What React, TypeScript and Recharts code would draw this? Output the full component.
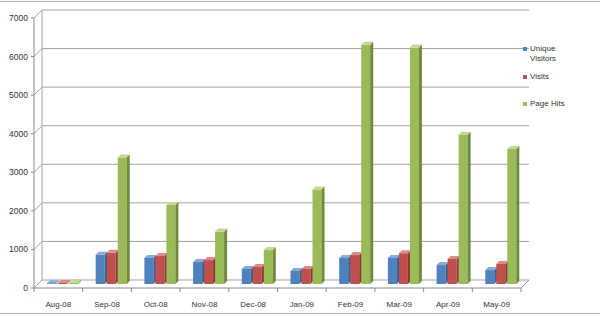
import { BarChart, Bar, XAxis, YAxis, CartesianGrid, Customized } from "recharts";

const months = ["Aug-08", "Sep-08", "Oct-08", "Nov-08", "Dec-08", "Jan-09", "Feb-09", "Mar-09", "Apr-09", "May-09"];
const uniqueVisitors = [20, 760, 675, 570, 390, 340, 675, 675, 490, 360];
const visits = [25, 810, 725, 620, 440, 390, 750, 800, 650, 520];
const pageHits = [35, 3280, 2050, 1360, 880, 2450, 6200, 6130, 3870, 3500];
const yTicks = [0, 1000, 2000, 3000, 4000, 5000, 6000, 7000];

const series = [
  { key: "uniqueVisitors", name: "Unique Visitors", front: "#4f81bd", side: "#37608f", top: "#8aa9d6" },
  { key: "visits", name: "Visits", front: "#c0504d", side: "#8e3634", top: "#db8c8a" },
  { key: "pageHits", name: "Page Hits", front: "#9bbb59", side: "#6f8a3a", top: "#c2d993" },
];

const data = months.map((month, i) => ({
  month,
  uniqueVisitors: uniqueVisitors[i],
  visits: visits[i],
  pageHits: pageHits[i],
}));

const W = 600;
const H = 317;
const LEFT = 38;
const TOP = 14;
const RIGHT = 525;
const BOTTOM = 284;
const D = 4; // half of the 3D depth
const FONT = "'Liberation Sans', Arial, sans-serif";
const LINE = "#a3a3a3";
const AXIS = "#8a8a8a";

function Box(props: any) {
  const { x, y, width, height, colors } = props;
  if (width == null || height == null) return null;
  const d = 3;
  const h = Math.max(height, 0.5);
  return (
    <g>
      <rect x={x} y={y} width={width} height={h} fill={colors.front} />
      <polygon
        points={`${x + width},${y} ${x + width + d},${y - d} ${x + width + d},${y + h - d} ${x + width},${y + h}`}
        fill={colors.side}
      />
      <polygon
        points={`${x},${y} ${x + d},${y - d} ${x + width + d},${y - d} ${x + width},${y}`}
        fill={colors.top}
      />
    </g>
  );
}

function YTick(props: any) {
  const { y, payload } = props;
  return (
    <g>
      <text x={28} y={y + D} textAnchor="end" dominantBaseline="central" fontSize={8.5} fill="#333" fontFamily={FONT}>
        {payload.value}
      </text>
      <line x1={31} y1={y + D} x2={LEFT - D} y2={y + D} stroke={AXIS} />
    </g>
  );
}

function XTick(props: any) {
  const { x, payload, index } = props;
  const band = (RIGHT - LEFT) / months.length;
  const cx = x - D;
  return (
    <g>
      <text x={cx} y={BOTTOM + 20} textAnchor="middle" dominantBaseline="central" fontSize={8} fill="#333" fontFamily={FONT}>
        {payload.value}
      </text>
      <line x1={cx - band / 2} y1={BOTTOM + D} x2={cx - band / 2} y2={BOTTOM + D + 4} stroke={AXIS} />
      {index === months.length - 1 && (
        <line x1={cx + band / 2} y1={BOTTOM + D} x2={cx + band / 2} y2={BOTTOM + D + 4} stroke={AXIS} />
      )}
    </g>
  );
}

function GridLine(props: any) {
  const { x1, x2, y1 } = props;
  return (
    <path
      d={`M${x1 - D},${y1 + D} L${x1 + D},${y1 - D} L${x2 + D},${y1 - D}`}
      fill="none"
      stroke={LINE}
      strokeWidth={1}
    />
  );
}

function Frame() {
  return (
    <g>
      <line x1={0} y1={1.5} x2={W} y2={1.5} stroke="#b5b5b5" />
      <line x1={0} y1={313.5} x2={W} y2={313.5} stroke="#b5b5b5" />
      <line x1={LEFT + D} y1={TOP - D} x2={LEFT + D} y2={BOTTOM - D} stroke={LINE} />
      <line x1={LEFT - D} y1={TOP + D} x2={LEFT - D} y2={BOTTOM + D} stroke={AXIS} />
      <line x1={LEFT - D} y1={BOTTOM + D} x2={RIGHT - D} y2={BOTTOM + D} stroke={AXIS} />
      <line x1={RIGHT - D} y1={BOTTOM + D} x2={RIGHT + D} y2={BOTTOM - D} stroke={AXIS} />
    </g>
  );
}

const legendTop = [44, 72, 99];

export default function App() {
  return (
    <div style={{ position: "fixed", left: 0, top: 0, width: W, height: H, background: "#fff" }}>
      <BarChart
        width={W}
        height={H}
        data={data}
        margin={{ top: TOP, right: W - RIGHT, bottom: 0, left: 0 }}
        barSize={9}
        barGap={2}
      >
        <CartesianGrid horizontal={(p: any) => <GridLine key={p.key} {...p} />} vertical={false} />
        <Customized component={Frame} />
        <XAxis
          dataKey="month"
          height={H - BOTTOM}
          axisLine={false}
          tickLine={false}
          interval={0}
          tick={<XTick />}
        />
        <YAxis
          domain={[0, 7000]}
          ticks={yTicks}
          width={LEFT}
          axisLine={false}
          tickLine={false}
          tick={<YTick />}
        />
        {series.map((s) => (
          <Bar
            key={s.key}
            dataKey={s.key}
            name={s.name}
            fill={s.front}
            isAnimationActive={false}
            shape={(p: any) => <Box {...p} colors={s} />}
          />
        ))}
      </BarChart>
      {series.map((s, i) => (
        <div
          key={s.key}
          style={{
            position: "absolute",
            left: 523,
            top: legendTop[i],
            display: "flex",
            alignItems: "flex-start",
            fontFamily: FONT,
            fontSize: 8,
            lineHeight: "10px",
            color: "#333",
          }}
        >
          <span style={{ width: 4, height: 4, background: s.front, marginTop: 3, marginRight: 3, flexShrink: 0 }} />
          <span style={{ width: 44 }}>{s.name}</span>
        </div>
      ))}
    </div>
  );
}
